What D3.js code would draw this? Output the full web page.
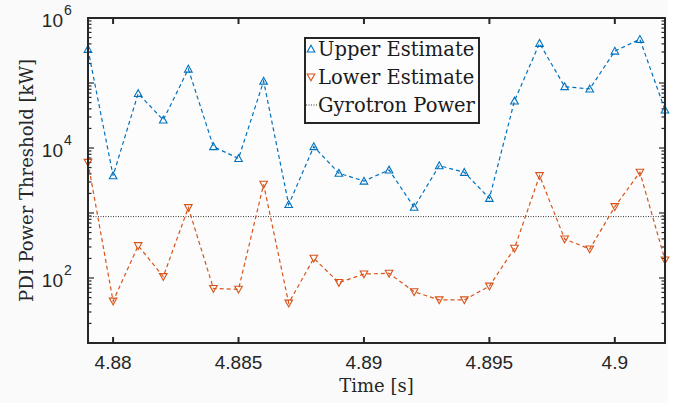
<!DOCTYPE html>
<html><head><meta charset="utf-8">
<script src="https://cdn.jsdelivr.net/npm/d3@7"></script>
<style>
html,body{margin:0;padding:0;background:#fff;}
svg{display:block;}
</style></head>
<body>
<svg id="chart" width="678" height="403"></svg>
<script>
const times = [4.879,4.880,4.881,4.882,4.883,4.884,4.885,4.886,4.887,4.888,4.889,4.890,4.891,4.892,4.893,4.894,4.895,4.896,4.897,4.898,4.899,4.900,4.901,4.902];
const upperEstimate = [330000,3750,69000,27000,164000,10500,6900,107000,1350,10500,4100,3100,4600,1225,5350,4230,1680,53000,408000,88000,81000,310000,470000,38500];
const lowerEstimate = [6000,44,314,105,1210,69,67,2760,41,201,85,115,118,61.5,46,46,75,286,3750,398,279,1250,4230,189];
const gyrotronPower = 880;
const xTicks = [4.88,4.885,4.89,4.895,4.9];
const xTickLabels = ["4.88","4.885","4.89","4.895","4.9"];
const yTicks = [1e2,1e4,1e6];
const yTickExponents = ["2","4","6"];
const seriesNames = ["Upper Estimate","Lower Estimate","Gyrotron Power"];

const svg = d3.select("#chart");
svg.append("rect").attr("x",0).attr("y",0).attr("width",668).attr("height",403).attr("fill","#fafafa");

const L=88,R=665,T=18,B=343;
const x = d3.scaleLinear().domain([4.879,4.902]).range([L,R]);
const y = d3.scaleLog().domain([10,1e6]).range([B,T]);

svg.append("rect").attr("x",L).attr("y",T).attr("width",R-L).attr("height",B-T).attr("fill","#fcfcfc");

const axisCol="#262626";
const minor=[];
for(let e=1;e<6;e++) for(let m=2;m<=9;m++) minor.push(m*Math.pow(10,e));
const gTicks = svg.append("g").attr("stroke",axisCol).attr("stroke-width",1.2);
minor.forEach(v=>{
  gTicks.append("line").attr("x1",L).attr("x2",L+3.5).attr("y1",y(v)).attr("y2",y(v));
  gTicks.append("line").attr("x1",R).attr("x2",R-3.5).attr("y1",y(v)).attr("y2",y(v));
});
[10,1e2,1e3,1e4,1e5,1e6].forEach(v=>{
  gTicks.append("line").attr("x1",L).attr("x2",L+6).attr("y1",y(v)).attr("y2",y(v));
  gTicks.append("line").attr("x1",R).attr("x2",R-6).attr("y1",y(v)).attr("y2",y(v));
});
xTicks.forEach(v=>{
  gTicks.append("line").attr("x1",x(v)).attr("x2",x(v)).attr("y1",B).attr("y2",B-6).attr("stroke-width",2);
  gTicks.append("line").attr("x1",x(v)).attr("x2",x(v)).attr("y1",T).attr("y2",T+6).attr("stroke-width",2);
});

svg.append("line").attr("x1",L).attr("x2",R).attr("y1",y(gyrotronPower)).attr("y2",y(gyrotronPower))
  .attr("stroke","#333").attr("stroke-width",1).attr("stroke-dasharray","1,1.5");

const blue="#0072BD", orange="#D95319";
const line = d3.line().x((d,i)=>x(times[i])).y(d=>y(d));
svg.append("path").datum(upperEstimate).attr("d",line).attr("fill","none").attr("stroke",blue).attr("stroke-width",1.2).attr("stroke-dasharray","4,3");
svg.append("path").datum(lowerEstimate).attr("d",line).attr("fill","none").attr("stroke",orange).attr("stroke-width",1.2).attr("stroke-dasharray","4,3");

function triPath(cx,cy,up){ const s=3.8; return up?`M${cx},${cy-s}L${cx+s},${cy+s*0.8}L${cx-s},${cy+s*0.8}Z`:`M${cx},${cy+s}L${cx+s},${cy-s*0.8}L${cx-s},${cy-s*0.8}Z`; }
upperEstimate.forEach((v,i)=>{
  svg.append("path").attr("d",triPath(x(times[i]),y(v),true)).attr("fill","none").attr("stroke",blue).attr("stroke-width",1.1);
});
lowerEstimate.forEach((v,i)=>{
  svg.append("path").attr("d",triPath(x(times[i]),y(v),false)).attr("fill","none").attr("stroke",orange).attr("stroke-width",1.1);
});

svg.append("rect").attr("x",L).attr("y",T).attr("width",R-L).attr("height",B-T).attr("fill","none").attr("stroke",axisCol).attr("stroke-width",2);

const sans="'Liberation Sans', Arial, sans-serif";
const serif="'DejaVu Serif', 'Liberation Serif', serif";
xTicks.forEach((v,i)=>{
  svg.append("text").attr("x",x(v)).attr("y",369).attr("text-anchor","middle")
    .attr("font-family",sans).attr("font-size",19).attr("fill","#262626").text(xTickLabels[i]);
});
yTicks.forEach((v,i)=>{
  svg.append("text").attr("x",63).attr("y",y(v)+9).attr("text-anchor","end")
    .attr("font-family",sans).attr("font-size",19).attr("fill","#262626").text("10");
  svg.append("text").attr("x",64).attr("y",y(v)-3).attr("text-anchor","start")
    .attr("font-family",sans).attr("font-size",14).attr("fill","#262626").text(yTickExponents[i]);
});
svg.append("text").attr("x",(L+R)/2).attr("y",392).attr("text-anchor","middle")
  .attr("font-family",serif).attr("font-size",18).attr("fill","#262626").text("Time [s]");
svg.append("text").attr("transform",`translate(33,${(T+B)/2}) rotate(-90)`).attr("text-anchor","middle")
  .attr("font-family",serif).attr("font-size",18).attr("fill","#262626").text("PDI Power Threshold [kW]");

const lg = svg.append("g");
lg.append("rect").attr("x",305).attr("y",38).attr("width",174).attr("height",85).attr("fill","#fdfdfd").attr("stroke",axisCol).attr("stroke-width",2);
const rowsY=[49,77,105];
lg.append("path").attr("d",triPath(311,rowsY[0],true)).attr("fill","none").attr("stroke",blue).attr("stroke-width",1.1);
lg.append("path").attr("d",triPath(311,rowsY[1],false)).attr("fill","none").attr("stroke",orange).attr("stroke-width",1.1);
lg.append("line").attr("x1",306).attr("x2",317).attr("y1",rowsY[2]).attr("y2",rowsY[2]).attr("stroke","#333").attr("stroke-dasharray","1,1.5");
seriesNames.forEach((n,i)=>{
  lg.append("text").attr("x",318).attr("y",rowsY[i]+7).attr("font-family",serif).attr("font-size",19.5).attr("fill","#1a1a1a").text(n);
});
</script>
</body></html>
